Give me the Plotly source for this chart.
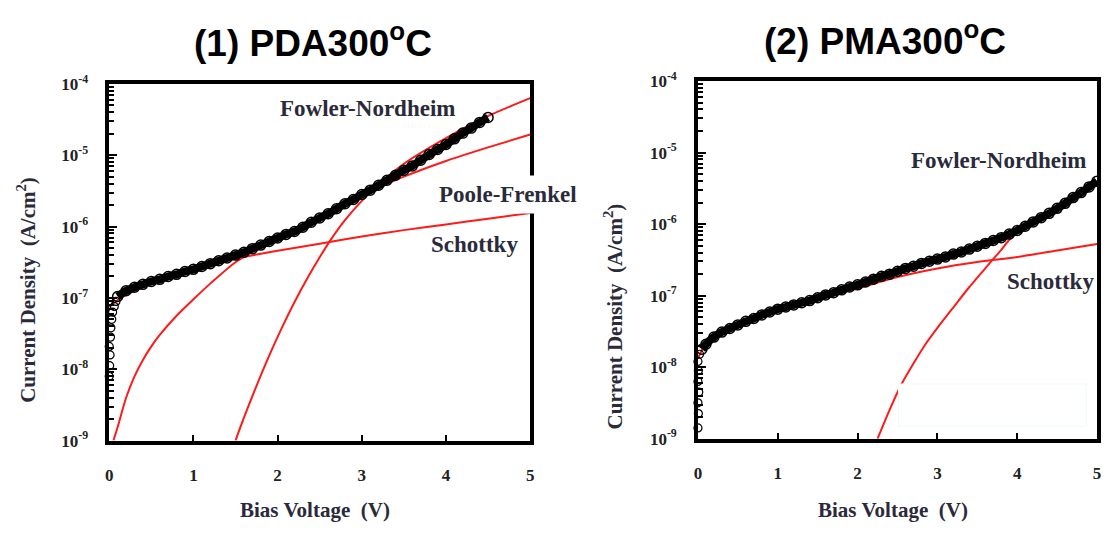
import plotly.graph_objects as go
from plotly.subplots import make_subplots

W, H = 1108, 533

# ---------------- data (log10 of current density, A/cm^2) ----------------
# (1) PDA300C measured data
pda_v = [0.1, 0.2, 0.3, 0.4, 0.5, 0.6, 0.7, 0.8, 0.9, 1.0, 1.1, 1.2, 1.3, 1.4, 1.5,
         1.6, 1.7, 1.8, 1.9, 2.0, 2.1, 2.2, 2.3, 2.4, 2.5, 2.6, 2.7, 2.8, 2.9, 3.0,
         3.1, 3.2, 3.3, 3.4, 3.5, 3.6, 3.7, 3.8, 3.9, 4.0, 4.1, 4.2, 4.3, 4.4, 4.5]
pda_logj = [-6.98, -6.90, -6.85, -6.81, -6.77, -6.74, -6.70, -6.67, -6.63, -6.60,
            -6.56, -6.52, -6.48, -6.44, -6.40, -6.36, -6.31, -6.26, -6.21, -6.16,
            -6.11, -6.07, -6.01, -5.94, -5.88, -5.82, -5.75, -5.68, -5.62, -5.55,
            -5.49, -5.42, -5.35, -5.28, -5.21, -5.15, -5.07, -4.99, -4.92, -4.85,
            -4.77, -4.69, -4.62, -4.54, -4.47]
pda_low_v = [0.0, 0.005, 0.01, 0.0, 0.015, 0.02, 0.03, 0.04, 0.06, 0.08]
pda_low_logj = [-8.10, -7.95, -7.80, -7.68, -7.55, -7.42, -7.30, -7.20, -7.12, -7.05]

# (1) fits
pda_sch_v = [0.0, 0.1, 0.2, 0.3, 0.5, 0.75, 1.0, 1.25, 1.5, 2.0, 2.5, 3.0, 3.5, 4.0, 4.5, 5.0]
pda_sch_logj = [-7.13, -7.03, -6.96, -6.90, -6.80, -6.70, -6.61, -6.53, -6.45,
                -6.34, -6.24, -6.14, -6.05, -5.97, -5.89, -5.81]
pda_pf_v = [0.05, 0.1, 0.2, 0.3, 0.4, 0.5, 0.6, 0.8, 1.0, 1.2, 1.5, 2.0, 2.5, 3.0,
            3.25, 3.5, 4.0, 4.5, 5.0]
pda_pf_logj = [-9.0, -8.81, -8.40, -8.10, -7.87, -7.68, -7.52, -7.25, -7.02, -6.80,
               -6.50, -6.16, -5.87, -5.57, -5.43, -5.30, -5.08, -4.89, -4.71]
pda_fn_v = [1.5, 1.6, 1.73, 1.9, 2.05, 2.2, 2.37, 2.5, 2.64, 2.8, 3.0, 3.2, 3.5, 4.0, 4.5, 5.0]
pda_fn_logj = [-9.0, -8.68, -8.29, -7.81, -7.42, -7.06, -6.69, -6.43, -6.17, -5.91,
               -5.64, -5.41, -5.12, -4.76, -4.45, -4.20]

# (2) PMA300C measured data
pma_v = [0.05, 0.1, 0.2, 0.3, 0.4, 0.5, 0.6, 0.7, 0.8, 0.9, 1.0, 1.1, 1.2, 1.3, 1.4,
         1.5, 1.6, 1.7, 1.8, 1.9, 2.0, 2.1, 2.2, 2.3, 2.4, 2.5, 2.6, 2.7, 2.8, 2.9,
         3.0, 3.1, 3.2, 3.3, 3.4, 3.5, 3.6, 3.7, 3.8, 3.9, 4.0, 4.1, 4.2, 4.3, 4.4,
         4.5, 4.6, 4.7, 4.8, 4.9, 5.0]
pma_logj = [-7.75, -7.68, -7.58, -7.51, -7.46, -7.41, -7.36, -7.32, -7.27, -7.23,
            -7.19, -7.16, -7.13, -7.10, -7.07, -7.03, -6.99, -6.96, -6.92, -6.88,
            -6.85, -6.81, -6.77, -6.73, -6.70, -6.66, -6.62, -6.59, -6.55, -6.52,
            -6.49, -6.46, -6.42, -6.39, -6.35, -6.31, -6.27, -6.23, -6.19, -6.14,
            -6.09, -6.03, -5.97, -5.91, -5.85, -5.78, -5.71, -5.63, -5.56, -5.48, -5.40]
pma_low_v = [0.0, 0.005, 0.0, 0.01, 0.0, 0.005, 0.0, 0.02]
pma_low_logj = [-8.85, -8.65, -8.50, -8.35, -8.20, -8.05, -7.92, -7.82]

# (2) fits
pma_sch_v = [0.0, 0.05, 0.1, 0.2, 0.3, 0.5, 0.75, 1.0, 1.5, 2.0, 2.5, 3.0, 3.5, 4.0, 4.5, 5.0]
pma_sch_logj = [-7.88, -7.76, -7.69, -7.59, -7.52, -7.42, -7.31, -7.21, -7.05,
                -6.90, -6.74, -6.62, -6.53, -6.46, -6.37, -6.28]
pma_fn_v = [2.25, 2.4, 2.54, 2.7, 2.85, 3.0, 3.21, 3.4, 3.5, 3.66, 3.8, 3.91, 4.2, 4.5, 5.0]
pma_fn_logj = [-9.0, -8.60, -8.26, -7.95, -7.68, -7.45, -7.15, -6.88, -6.75, -6.54,
               -6.36, -6.21, -5.96, -5.76, -5.40]

x_ticks = [0, 1, 2, 3, 4, 5]
x_ticktext = ["<b>0</b>", "<b>1</b>", "<b>2</b>", "<b>3</b>", "<b>4</b>", "<b>5</b>"]
y_tickvals = [1e-9, 1e-8, 1e-7, 1e-6, 1e-5, 1e-4]
y_ticktext = ["<b>10<sup>-9</sup></b>", "<b>10<sup>-8</sup></b>", "<b>10<sup>-7</sup></b>",
              "<b>10<sup>-6</sup></b>", "<b>10<sup>-5</sup></b>", "<b>10<sup>-4</sup></b>"]


def p(v):
    return [10 ** a for a in v]


def px(x):
    return x / W


def py(y):
    return 1 - y / H


fig = make_subplots(rows=1, cols=2)

RED = "#ff1a1a"
panels = [
    (1, pda_v, pda_logj, pda_low_v, pda_low_logj,
     [(pda_sch_v, pda_sch_logj), (pda_pf_v, pda_pf_logj), (pda_fn_v, pda_fn_logj)]),
    (2, pma_v, pma_logj, pma_low_v, pma_low_logj,
     [(pma_sch_v, pma_sch_logj), (pma_fn_v, pma_fn_logj)]),
]
for col, dv, dj, lv, lj, fits in panels:
    for fv, fj in fits:
        fig.add_trace(go.Scatter(x=fv, y=p(fj), mode="lines",
                                 line=dict(color=RED, width=2, shape="spline", smoothing=0.7),
                                 showlegend=False), row=1, col=col)
    fig.add_trace(go.Scatter(x=dv, y=p(dj), mode="lines+markers",
                             line=dict(color="black", width=8, shape="spline", smoothing=0.7),
                             marker=dict(symbol="circle-open", size=10, color="black",
                                         line=dict(width=1.5, color="black")),
                             showlegend=False), row=1, col=col)
    fig.add_trace(go.Scatter(x=lv, y=p(lj), mode="markers",
                             marker=dict(symbol="circle-open", size=8, color="black",
                                         line=dict(width=1.2, color="black")),
                             showlegend=False, cliponaxis=False), row=1, col=col)

tickfont = dict(family="Liberation Serif", size=17, color="#222")
axis_common_x = dict(range=[0, 5], tickvals=x_ticks, ticktext=x_ticktext,
                     ticks="inside", ticklen=6,
                     tickwidth=1.5, tickcolor="black", showline=True, linewidth=3.5,
                     linecolor="black", mirror=True, showgrid=False, zeroline=False,
                     tickfont=tickfont, ticklabelstandoff=16)
axis_common_y = dict(type="log", range=[-9, -4], tickvals=y_tickvals, ticktext=y_ticktext,
                     ticks="inside", ticklen=8, tickwidth=1.5, tickcolor="black",
                     minor=dict(ticks="inside", ticklen=5, tickcolor="black",
                                dtick="D1", showgrid=False),
                     showline=True, linewidth=3.5, linecolor="black", mirror=True,
                     showgrid=False, zeroline=False, tickfont=tickfont,
                     ticklabelstandoff=14)

fig.update_xaxes(**axis_common_x)
fig.update_yaxes(**axis_common_y)
fig.update_layout(
    xaxis=dict(domain=[px(106), px(530)]),
    yaxis=dict(domain=[py(447), py(75)]),
    xaxis2=dict(domain=[px(699), px(1101)]),
    yaxis2=dict(domain=[py(445), py(72)]),
)

ann = []
title_font = dict(family="Liberation Sans", size=37, color="black")
ann.append(dict(x=px(311), y=py(30), text="<b>(1) PDA300<sup>o</sup>C</b>", font=title_font))
ann.append(dict(x=px(887), y=py(28), text="<b>(2) PMA300<sup>o</sup>C</b>", font=title_font))

lab_font = dict(family="Liberation Serif", size=21, color="#2a2a3a")
ann.append(dict(x=px(313), y=py(519), text="<b>Bias Voltage  (V)</b>", font=lab_font))
ann.append(dict(x=px(895), y=py(519), text="<b>Bias Voltage  (V)</b>", font=lab_font))
ann.append(dict(x=px(22), y=py(290), text="<b>Current Density  (A/cm<sup>2</sup>)</b>",
                font=lab_font, textangle=-90))
ann.append(dict(x=px(614), y=py(318), text="<b>Current Density  (A/cm<sup>2</sup>)</b>",
                font=lab_font, textangle=-90))

curve_font = dict(family="Liberation Serif", size=23, color="#2a2a3a")
ann.append(dict(x=px(366), y=py(101), text="<b>Fowler-Nordheim</b>", font=curve_font))
ann.append(dict(x=px(508), y=py(190), text="<b>Poole-Frenkel</b>", font=curve_font,
                bgcolor="white", borderpad=6))
ann.append(dict(x=px(474), y=py(243), text="<b>Schottky</b>", font=curve_font))
ann.append(dict(x=px(1002), y=py(155), text="<b>Fowler-Nordheim</b>", font=curve_font))
ann.append(dict(x=px(1054), y=py(281), text="<b>Schottky</b>", font=curve_font))

for a in ann:
    a.update(xref="paper", yref="paper", showarrow=False, xanchor="center", yanchor="middle")
fig.update_layout(annotations=ann)

fig.add_shape(type="rect", xref="paper", yref="paper",
              x0=px(901), x1=px(1090), y0=py(432), y1=py(388),
              fillcolor="white", line=dict(color="#eef9f9", width=1), layer="above")

fig.update_layout(width=W, height=H, margin=dict(l=0, r=0, t=0, b=0),
                  paper_bgcolor="white", plot_bgcolor="white")

fig.write_html("out.html")
